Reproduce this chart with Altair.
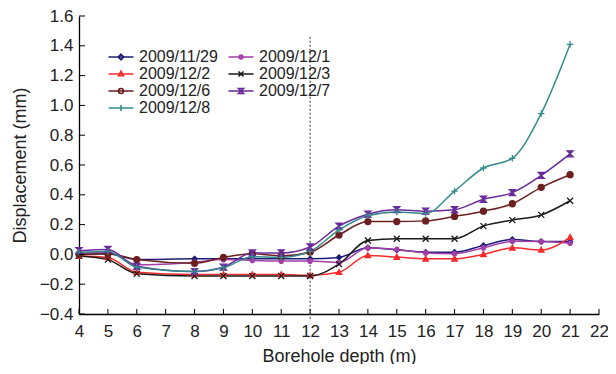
import altair as alt
import pandas as pd

# ---------------- data ----------------
depths = [4, 5, 6, 8, 9, 10, 11, 12, 13, 14, 15, 16, 17, 18, 19, 20, 21]

series_names = ["2009/11/29", "2009/12/1", "2009/12/2", "2009/12/3",
                "2009/12/6", "2009/12/7", "2009/12/8"]

v_1129 = [0.0, 0.005, -0.035, -0.03, -0.03, -0.03, -0.03, -0.03, -0.02,
          0.044, 0.03, 0.015, 0.015, 0.06, 0.10, 0.086, 0.086]
v_1201 = [0.01, 0.015, -0.07, -0.052, -0.035, -0.04, -0.045, -0.045, -0.055,
          0.044, 0.033, 0.01, 0.005, 0.044, 0.088, 0.086, 0.075]
v_1202 = [-0.01, -0.02, -0.12, -0.135, -0.135, -0.135, -0.135, -0.14, -0.12,
          -0.007, -0.018, -0.03, -0.03, 0.0, 0.044, 0.03, 0.115]
v_1203 = [-0.01, -0.035, -0.13, -0.145, -0.145, -0.145, -0.145, -0.145, -0.065,
          0.093, 0.105, 0.105, 0.105, 0.19, 0.23, 0.265, 0.36]
v_1206 = [0.0, 0.005, -0.035, -0.06, -0.02, 0.005, -0.01, 0.015, 0.13,
          0.22, 0.22, 0.225, 0.255, 0.29, 0.34, 0.45, 0.535]
v_1207 = [0.025, 0.033, -0.08, -0.115, -0.085, 0.01, 0.01, 0.05, 0.19,
          0.27, 0.30, 0.29, 0.30, 0.37, 0.415, 0.53, 0.675]
v_1208 = [0.015, 0.02, -0.085, -0.115, -0.09, -0.015, -0.02, 0.02, 0.165,
          0.26, 0.285, 0.275, 0.425, 0.58, 0.645, 0.945, 1.41]

all_values = [v_1129, v_1201, v_1202, v_1203, v_1206, v_1207, v_1208]

colors = ["#1c1c78", "#a23fa8", "#f52a2a", "#1a1a1a", "#6b1f1f", "#6a2a9a", "#338c8c"]

x_ticks = [4, 5, 6, 7, 8, 9, 10, 11, 12, 13, 14, 15, 16, 17, 18, 19, 20, 21, 22]
y_ticks = [-0.4, -0.2, 0.0, 0.2, 0.4, 0.6, 0.8, 1.0, 1.2, 1.4, 1.6]

marker_depth = [12]
marker_top = [1.46]

# legend order (column-major fill of a 2-column legend)
legend_order = [0, 2, 4, 6, 1, 3, 5]

# ---------------- styles ----------------
marker_paths = [
    "M0,-1L1,0L0,1L-1,0Z",
    "M-1,0A1,1,0,1,1,1,0A1,1,0,1,1,-1,0Z",
    "M0,-1L1,0.8L-1,0.8Z",
    "M-1,-1L1,1M-1,1L1,-1",
    "M-1,0A1,1,0,1,1,1,0A1,1,0,1,1,-1,0Z",
    "M-1,-1L1,-1L-1,1L1,1Z",
    "M-1,0L1,0M0,-1L0,1",
]
marker_filled = [True, True, True, False, True, True, False]
marker_sizes = [26, 20, 30, 36, 36, 36, 42]

# legend symbols: line segment plus marker (size 100 -> 1 unit = 5 px)
legend_paths = [
    "M-2.5,0L2.5,0M0,-0.55L0.55,0L0,0.55L-0.55,0Z",
    "M-2.5,0L2.5,0M-0.38,0A0.38,0.38,0,1,1,0.38,0A0.38,0.38,0,1,1,-0.38,0Z",
    "M-2.5,0L2.5,0M0,-0.55L0.5,0.35L-0.5,0.35Z",
    "M-2.5,0L2.5,0M-0.5,-0.5L0.5,0.5M-0.5,0.5L0.5,-0.5",
    "M-2.5,0L2.5,0M-0.5,0A0.5,0.5,0,1,1,0.5,0A0.5,0.5,0,1,1,-0.5,0Z",
    "M-2.5,0L2.5,0M-0.5,-0.5L0.5,-0.5L-0.5,0.5L0.5,0.5Z",
    "M-2.5,0L2.5,0M0,-0.6L0,0.6",
]

FONT = "Liberation Sans"
W, H = 520, 298

rows = []
for name, vals in zip(series_names, all_values):
    for d, v in zip(depths, vals):
        rows.append({"series": name, "depth": d, "disp": v})
df = pd.DataFrame(rows)

dom = [series_names[i] for i in legend_order]
xs = alt.Scale(domain=[4, 22], nice=False, zero=False)
ys = alt.Scale(domain=[-0.4, 1.6], nice=False, zero=False)
color_scale = alt.Scale(domain=dom, range=[colors[i] for i in legend_order])
shape_scale = alt.Scale(domain=dom, range=[legend_paths[i] for i in legend_order])

x_axis = alt.Axis(values=x_ticks, ticks=False, grid=False, title="Borehole depth (m)",
                  labelPadding=9, titlePadding=8, format="d", labelFlush=False)
y_axis = alt.Axis(values=y_ticks, ticks=False, grid=False, title="Displacement (mm)",
                  labelPadding=6, titlePadding=10, format=".1f", labelFlush=False)

X = alt.X("depth:Q", scale=xs, axis=x_axis)
Y = alt.Y("disp:Q", scale=ys, axis=y_axis)

leg = alt.Legend(title=None, orient="none", legendX=34, legendY=33, columns=2,
                 labelFontSize=16, labelFont=FONT, labelColor="#222",
                 symbolSize=100, symbolStrokeWidth=1.6, rowPadding=1,
                 columnPadding=7, labelOffset=10, padding=0)

lines = alt.Chart(df).mark_line(interpolate="monotone", strokeWidth=1.5).encode(
    x=X, y=Y,
    color=alt.Color("series:N", scale=color_scale, legend=leg),
    order=alt.Order("depth:Q"),
)

point_layers = []
for name, col, path, filled, size in zip(series_names, colors, marker_paths,
                                         marker_filled, marker_sizes):
    pl = alt.Chart(df).transform_filter(alt.datum.series == name).mark_point(
        shape=path, size=size, filled=filled, color=col, stroke=col,
        fill=col if filled else "transparent", strokeWidth=1.3, opacity=1,
    ).encode(x=X, y=Y)
    point_layers.append(pl)

legend_layer = alt.Chart(df).mark_point(filled=False, clip=True, strokeWidth=1.6,
                                        opacity=1).encode(
    x=alt.value(-100), y=alt.value(-100),
    color=alt.Color("series:N", scale=color_scale, legend=leg),
    shape=alt.Shape("series:N", scale=shape_scale, legend=leg),
)

xtick_df = pd.DataFrame({"depth": x_ticks})
ytick_df = pd.DataFrame({"disp": y_ticks})

xticks = alt.Chart(xtick_df).mark_rule(color="black", strokeWidth=1).encode(
    x=X, y=alt.value(H), y2=alt.value(H - 5))
yticks = alt.Chart(ytick_df).mark_rule(color="black", strokeWidth=1).encode(
    y=Y, x=alt.value(0), x2=alt.value(6))

dash_df = pd.DataFrame({"depth": marker_depth, "disp": marker_top})
dashed = alt.Chart(dash_df).mark_rule(color="#555", strokeDash=[2, 2], strokeWidth=1.2).encode(
    x=X, y=Y, y2=alt.value(H + 7))

chart = alt.layer(dashed, lines, *point_layers, legend_layer, xticks, yticks).properties(
    width=W, height=H,
    background="white",
    autosize=alt.AutoSizeParams(type="none"),
    padding={"left": 71, "top": 8, "right": 9, "bottom": 50},
).configure_view(stroke=None).configure_axis(
    domainColor="black", domainWidth=1.3,
    labelFont=FONT, labelFontSize=17, labelColor="#222",
    titleFont=FONT, titleFontSize=18, titleFontWeight="normal", titleColor="#222",
)

chart.save("out.html", embed_options={"renderer": "svg", "actions": False})
